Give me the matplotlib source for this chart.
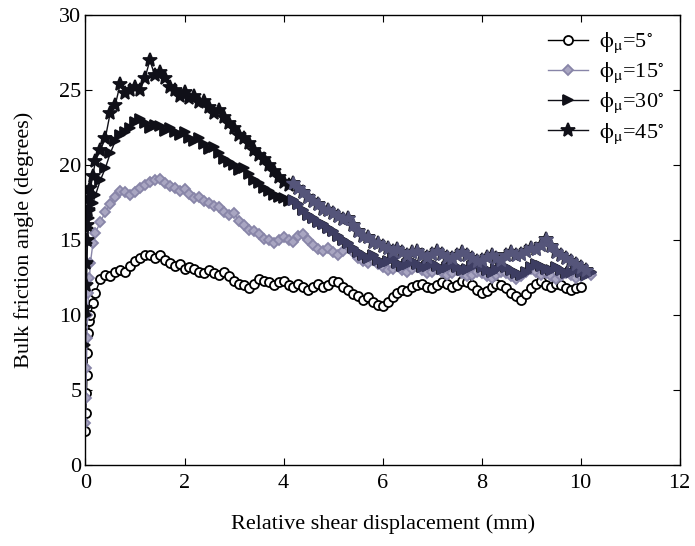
import matplotlib
matplotlib.use("Agg")
import matplotlib.pyplot as plt

plt.rcParams['font.family'] = ['Liberation Serif', 'DejaVu Serif']
plt.rcParams['mathtext.fontset'] = 'stix'

# displacement grid (mm): start of the test, then main part
x_early = [0.0, 0.01, 0.02, 0.03, 0.04, 0.06, 0.08, 0.1, 0.15]
x_main = [0.2, 0.3, 0.4, 0.5, 0.6, 0.7, 0.8, 0.9, 1.0, 1.1, 1.2, 1.3, 1.4, 1.5,
          1.6, 1.7, 1.8, 1.9, 2.0, 2.1, 2.2, 2.3, 2.4, 2.5, 2.6, 2.7, 2.8, 2.9,
          3.0, 3.1, 3.2, 3.3, 3.4, 3.5, 3.6, 3.7, 3.8, 3.9, 4.0, 4.1, 4.2, 4.3,
          4.4, 4.5, 4.6, 4.7, 4.8, 4.9, 5.0, 5.1, 5.2, 5.3, 5.4, 5.5, 5.6, 5.7,
          5.8, 5.9, 6.0, 6.1, 6.2, 6.3, 6.4, 6.5, 6.6, 6.7, 6.8, 6.9, 7.0, 7.1,
          7.2, 7.3, 7.4, 7.5, 7.6, 7.7, 7.8, 7.9, 8.0, 8.1, 8.2, 8.3, 8.4, 8.5,
          8.6, 8.7, 8.8, 8.9, 9.0, 9.1, 9.2, 9.3, 9.4, 9.5, 9.6, 9.7, 9.8, 9.9,
          10.0, 10.1, 10.2]

# bulk friction angle (degrees)
phi5_early = [2.3, 3.5, 4.8, 6.0, 7.5, 8.8, 9.6, 10.0, 10.8]
phi5 = [11.5, 12.4, 12.7, 12.6, 12.9, 13.0, 12.9, 13.3, 13.6, 13.8, 14.0, 14.0, 13.8, 14.0,
        13.7, 13.5, 13.3, 13.4, 13.1, 13.2, 13.1, 12.9, 12.8, 13.0, 12.8, 12.7, 12.9, 12.6,
        12.3, 12.1, 12.0, 11.8, 12.1, 12.4, 12.3, 12.2, 12.0, 12.2, 12.3, 12.0, 11.9, 12.1,
        11.9, 11.7, 11.9, 12.1, 11.9, 12.0, 12.3, 12.2, 11.9, 11.7, 11.4, 11.3, 11.0, 11.2,
        10.9, 10.7, 10.6, 10.9, 11.2, 11.5, 11.7, 11.6, 11.9, 12.0, 12.1, 11.9, 11.8, 12.0,
        12.2, 12.1, 11.9, 12.0, 12.3, 12.2, 12.0, 11.7, 11.5, 11.6, 11.9, 12.1, 12.0, 11.8,
        11.5, 11.3, 11.0, 11.4, 11.8, 12.1, 12.3, 12.0, 11.9, 12.1, 12.0, 11.8, 11.7, 11.8,
        11.9]

phi15_early = [2.8, 4.5, 6.5, 8.5, 10.0, 11.5, 12.5, 13.5, 14.8]
phi15 = [15.5, 16.2, 16.9, 17.4, 17.9, 18.3, 18.2, 18.0, 18.2, 18.5, 18.7, 18.9, 19.0, 19.1,
         18.8, 18.6, 18.5, 18.3, 18.4, 18.1, 17.8, 17.9, 17.6, 17.5, 17.3, 17.2, 16.9, 16.7,
         16.8, 16.3, 16.0, 15.7, 15.6, 15.4, 15.1, 15.0, 14.8, 15.0, 15.2, 15.0, 14.9, 15.3,
         15.4, 15.0, 14.7, 14.4, 14.3, 14.5, 14.2, 14.0, 14.3, 14.6, 14.2, 13.8, 13.6, 13.5,
         13.7, 13.4, 13.2, 13.0, 13.1, 13.3, 13.0, 12.9, 13.1, 13.2, 13.0, 12.8, 12.9, 13.1,
         12.9, 12.7, 12.8, 13.0, 12.8, 12.6, 12.7, 12.9, 12.8, 12.6, 12.5, 12.7, 12.9, 12.8,
         12.6, 12.4, 12.6, 12.9, 13.1, 12.9, 12.7, 12.8, 12.6, 12.4, 12.6, 12.8, 12.7, 12.5,
         12.6, 12.8, 12.7]

phi30_early = [8.0, 10.0, 12.0, 13.5, 14.8, 15.8, 16.5, 17.0, 17.5]
phi30 = [18.0, 19.0, 19.8, 20.8, 21.6, 22.0, 22.2, 22.5, 22.9, 23.1, 22.8, 22.5, 22.7, 22.6,
         22.3, 22.5, 22.2, 22.0, 22.2, 21.8, 21.6, 21.8, 21.4, 21.1, 21.2, 20.8, 20.4, 20.2,
         20.0, 19.7, 19.8, 19.4, 19.0, 18.8, 18.5, 18.3, 18.0, 17.9, 17.8, 17.6, 17.7, 17.4,
         17.0, 16.7, 16.5, 16.2, 16.1, 15.8, 15.6, 15.3, 15.0, 14.8, 14.5, 14.2, 14.0, 13.8,
         14.0, 13.7, 13.5, 13.6, 13.8, 13.5, 13.3, 13.4, 13.6, 13.4, 13.2, 13.3, 13.5, 13.3,
         13.1, 13.2, 13.4, 13.2, 13.0, 13.1, 13.3, 13.4, 13.2, 13.0, 12.9, 13.1, 13.3, 13.2,
         13.0, 12.8, 12.7, 12.9, 13.2, 13.4, 13.3, 13.1, 13.0, 13.2, 13.0, 12.8, 12.9, 13.1,
         12.9, 12.7, 12.9]

phi45_early = [10.5, 12.0, 13.5, 15.0, 16.0, 17.0, 17.8, 18.5, 19.3]
phi45 = [20.3, 21.0, 21.8, 23.5, 24.0, 25.4, 24.8, 25.0, 25.2, 25.0, 25.8, 27.0, 26.0, 26.2,
         25.8, 25.2, 25.0, 24.6, 24.9, 24.5, 24.6, 24.2, 24.3, 23.9, 23.5, 23.7, 23.2, 22.8,
         22.5, 22.0, 21.8, 21.5, 21.0, 20.7, 20.4, 20.0, 19.6, 19.2, 18.9, 18.7, 18.8, 18.5,
         18.2, 17.9, 17.6, 17.4, 17.1, 17.0, 16.8, 16.6, 16.4, 16.5, 16.0, 15.6, 15.3, 15.2,
         14.9, 14.8, 14.6, 14.5, 14.3, 14.4, 14.2, 14.0, 14.2, 14.3, 14.0, 13.9, 14.1, 14.3,
         14.1, 13.9, 13.8, 14.0, 14.2, 14.0, 13.8, 13.6, 13.7, 13.9, 14.0, 13.8, 13.7, 14.0,
         14.2, 14.0, 14.1, 14.3, 14.5, 14.4, 14.7, 15.1, 14.6, 14.2, 14.0, 13.8, 13.6, 13.4,
         13.2, 13.0]

labels = [r'$\mathrm{\phi}_{\mathrm{\mu}}$=5$^{\circ}$', r'$\mathrm{\phi}_{\mathrm{\mu}}$=15$^{\circ}$',
          r'$\mathrm{\phi}_{\mathrm{\mu}}$=30$^{\circ}$', r'$\mathrm{\phi}_{\mathrm{\mu}}$=45$^{\circ}$']

fig = plt.figure(figsize=(6.95, 5.46), dpi=100)
ax = fig.add_axes([0.123, 0.148, 0.855, 0.824])

series = [
    (phi5_early + phi5, 'o', 'black', 'white', 6.5, 1.0),
    (phi15_early + phi15, 'D', '#8885a8', '#a9a6c2', 5.0, 1.0),
    (phi30_early + phi30, '>', '#101018', '#101018', 7.0, 1.0),
    (phi45_early + phi45, '*', '#101018', '#101018', 10.5, 1.0),
]
xs = x_early + x_main
for (ys, mk, col, face, ms, lw), lab in zip(series, labels):
    ax.plot(xs[:len(ys)], ys, color=col, marker=mk, markersize=ms,
            markerfacecolor=face, markeredgecolor=col, markeredgewidth=1.3,
            linewidth=lw, label=lab)

# the later parts of the two upper curves look lighter in the original
late = len(x_early) + 40
ax.plot(xs[late:late + len(phi30) - 40], (phi30_early + phi30)[late:], color='#3d3d62',
        marker='>', markersize=7.0, markerfacecolor='#3d3d62', markeredgecolor='#3d3d62',
        linewidth=1.0)
ax.plot(xs[late:late + len(phi45) - 40], (phi45_early + phi45)[late:], color='#55557a',
        marker='*', markersize=10.5, markerfacecolor='#55557a', markeredgecolor='#55557a',
        linewidth=1.0)

ax.set_xlim(0, 12)
ax.set_ylim(0, 30)
ax.set_xticks([0, 2, 4, 6, 8, 10, 12])
ax.set_yticks([0, 5, 10, 15, 20, 25, 30])
ax.tick_params(direction='in', top=True, right=True, labelsize=16, length=5)
ax.tick_params(axis='x', pad=6)
ax.tick_params(axis='y', pad=3)
for sp in ax.spines.values():
    sp.set_linewidth(1.0)

ax.set_xlabel('Relative shear displacement (mm)', fontsize=16, labelpad=16)
ax.set_ylabel('Bulk friction angle (degrees)', fontsize=16, labelpad=18)

ax.legend(loc='upper right', frameon=False, fontsize=16, handlelength=1.8,
          borderaxespad=0.3, labelspacing=0.25, handletextpad=0.5)

fig.savefig('out.png', dpi=100)
